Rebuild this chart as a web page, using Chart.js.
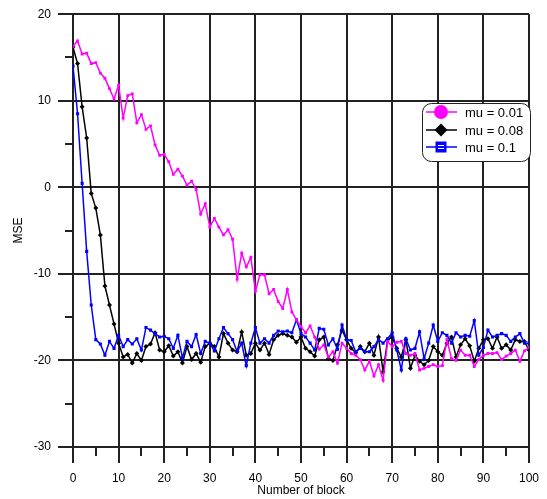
<!DOCTYPE html>
<html>
<head>
<meta charset="utf-8">
<script src="https://cdn.jsdelivr.net/npm/chart.js@4.4.0/dist/chart.umd.min.js"></script>
<style>
  html, body { margin: 0; padding: 0; background: #fff; }
  #wrap { width: 547px; height: 499px; }
</style>
</head>
<body>
<div id="wrap"><canvas id="c" width="547" height="499"></canvas></div>
<script>
// block index (x axis)
const blocks = [0,1,2,3,4,5,6,7,8,9,10,11,12,13,14,15,16,17,18,19,20,21,22,23,24,25,26,27,28,29,30,
  31,32,33,34,35,36,37,38,39,40,41,42,43,44,45,46,47,48,49,50,51,52,53,54,55,56,57,58,59,60,
  61,62,63,64,65,66,67,68,69,70,71,72,73,74,75,76,77,78,79,80,81,82,83,84,85,86,87,88,89,90,
  91,92,93,94,95,96,97,98,99,100];

// MSE values
const mse001 = [16.3,16.9,15.4,15.5,14.3,14.4,13.2,12.6,11.4,10.2,11.8,8.0,10.6,10.8,7.45,8.4,6.7,7.1,4.9,3.7,
  3.8,2.95,1.5,2.1,1.3,0.25,0.7,-0.25,-3.1,-1.9,-4.6,-3.6,-4.6,-5.5,-4.9,-6.0,-10.6,-7.6,-9.2,-8.1,
  -12.0,-10.1,-10.1,-12.3,-11.8,-13.2,-14.0,-11.8,-14.4,-15.3,-16.1,-16.8,-16.0,-17.3,-18.7,-18.2,-19.6,-19.0,-20.3,-18.0,
  -18.6,-19.2,-19.4,-19.9,-21.1,-20.1,-21.8,-20.5,-22.3,-17.8,-18.4,-17.9,-17.8,-19.2,-19.4,-19.2,-21.1,-20.9,-20.7,-20.5,
  -20.7,-20.6,-17.6,-19.8,-20.0,-18.8,-19.4,-19.4,-20.7,-19.9,-19.4,-19.2,-19.2,-19.1,-19.9,-19.5,-19.2,-18.8,-20.1,-18.9,
  -18.5];

const mse008 = [16.2,14.3,9.3,5.7,-0.7,-2.4,-5.5,-11.4,-13.6,-15.8,-18.0,-19.6,-19.3,-20.3,-19.2,-20.0,-18.4,-18.1,-16.8,-18.8,
  -19.0,-18.3,-19.5,-19.0,-20.3,-18.4,-19.9,-19.2,-20.2,-18.4,-18.0,-18.4,-19.6,-16.9,-18.0,-18.8,-19.0,-16.7,-19.4,-19.2,
  -18.0,-18.8,-18.0,-19.3,-17.6,-17.1,-16.9,-17.1,-17.3,-17.9,-17.3,-18.6,-19.0,-19.5,-17.6,-17.3,-19.8,-20.0,-18.2,-16.5,
  -17.6,-18.6,-19.1,-18.4,-19.0,-18.0,-19.4,-17.3,-21.3,-17.6,-17.3,-18.6,-19.6,-17.6,-20.9,-19.4,-20.1,-20.5,-20.0,-18.4,
  -19.0,-19.4,-18.0,-17.3,-19.6,-18.2,-17.5,-18.3,-20.1,-18.6,-17.6,-17.5,-18.6,-17.3,-18.6,-18.2,-18.8,-17.6,-17.8,-17.8,
  -18.8];

const mse01 = [14.0,8.5,0.45,-7.4,-13.6,-17.6,-18.1,-19.4,-17.8,-18.6,-17.1,-18.4,-17.6,-18.1,-17.5,-18.8,-16.2,-16.5,-16.9,-17.3,
  -17.2,-17.5,-18.6,-17.1,-19.7,-17.8,-18.4,-17.0,-19.2,-17.8,-18.0,-18.9,-17.5,-16.2,-16.9,-17.6,-19.0,-18.0,-20.6,-18.0,
  -16.2,-18.0,-17.5,-18.0,-17.1,-16.6,-16.7,-16.6,-16.8,-15.3,-16.9,-17.3,-18.0,-18.8,-16.3,-16.4,-18.2,-17.5,-18.7,-15.9,
  -17.6,-17.7,-19.0,-18.6,-19.0,-19.0,-18.4,-17.6,-18.0,-17.5,-16.8,-18.8,-21.1,-17.5,-18.8,-18.6,-16.7,-19.8,-18.0,-15.9,
  -17.8,-16.8,-17.1,-18.0,-16.8,-17.3,-17.1,-17.2,-15.4,-19.4,-18.5,-16.5,-17.3,-17.1,-16.9,-17.1,-17.8,-17.3,-16.9,-18.0,
  -18.0];

const seriesLabels = ['mu = 0.01', 'mu = 0.08', 'mu = 0.1'];
const xTicks = [0,10,20,30,40,50,60,70,80,90,100];
const yTicks = [-30,-20,-10,0,10,20];
const xMinor = [5,15,25,35,45,55,65,75,85,95];
const yMinor = [-25,-15,-5,5,15];

const FONT = 'Arial, "Liberation Sans", Helvetica, sans-serif';
const toPoints = (ys) => blocks.map((b, i) => ({ x: b, y: ys[i] }));

// minor tick marks outside the plot
const minorTicks = {
  id: 'minorTicks',
  afterDraw(chart) {
    const { ctx, scales: { x, y } } = chart;
    ctx.save();
    ctx.strokeStyle = '#222';
    ctx.lineWidth = 2;
    ctx.beginPath();
    xMinor.forEach(v => {
      const px = Math.round(x.getPixelForValue(v));
      ctx.moveTo(px, y.bottom);
      ctx.lineTo(px, y.bottom + 9);
    });
    yMinor.forEach(v => {
      const py = Math.round(y.getPixelForValue(v));
      ctx.moveTo(x.left - 8, py);
      ctx.lineTo(x.left, py);
    });
    ctx.stroke();
    ctx.restore();
  }
};

// boxed legend in the upper right
const boxLegend = {
  id: 'boxLegend',
  afterDraw(chart) {
    const ctx = chart.ctx;
    const bx = 422.5, by = 103.5, bw = 108, bh = 58;
    ctx.save();
    ctx.beginPath();
    ctx.roundRect(bx, by, bw, bh, 9);
    ctx.fillStyle = '#fff';
    ctx.fill();
    ctx.strokeStyle = '#222';
    ctx.lineWidth = 1;
    ctx.stroke();

    const rows = [112, 130, 147];
    const mx = 441;
    chart.data.datasets.forEach((ds, i) => {
      const ry = rows[i];
      ctx.strokeStyle = ds.borderColor;
      ctx.lineWidth = 1.5;
      ctx.beginPath();
      ctx.moveTo(426, ry);
      ctx.lineTo(457, ry);
      ctx.stroke();
      ctx.fillStyle = ds.borderColor;
      ctx.beginPath();
      if (i === 0) {
        ctx.arc(mx, ry, 7, 0, Math.PI * 2);
        ctx.fill();
      } else if (i === 1) {
        ctx.moveTo(mx, ry - 6.5);
        ctx.lineTo(mx + 6.5, ry);
        ctx.lineTo(mx, ry + 6.5);
        ctx.lineTo(mx - 6.5, ry);
        ctx.closePath();
        ctx.fill();
      } else {
        ctx.fillRect(mx - 5.5, ry - 5.5, 11, 11);
        ctx.strokeStyle = '#fff';
        ctx.lineWidth = 1;
        ctx.beginPath();
        ctx.moveTo(mx - 3, ry - 1.5); ctx.lineTo(mx + 3, ry - 1.5);
        ctx.moveTo(mx - 3, ry + 1.5); ctx.lineTo(mx + 3, ry + 1.5);
        ctx.stroke();
      }
      ctx.fillStyle = '#000';
      ctx.font = '13px ' + FONT;
      ctx.textBaseline = 'middle';
      ctx.textAlign = 'left';
      ctx.fillText(ds.label, 465, ry + 1);
    });
    ctx.restore();
  }
};

new Chart(document.getElementById('c').getContext('2d'), {
  type: 'line',
  data: {
    datasets: [
      {
        label: seriesLabels[0],
        data: toPoints(mse001),
        borderColor: '#ff00ff',
        backgroundColor: '#ff00ff',
        borderWidth: 1.5,
        pointStyle: 'rect',
        pointRadius: 2,
        pointBorderWidth: 0,
        order: 0
      },
      {
        label: seriesLabels[1],
        data: toPoints(mse008),
        borderColor: '#000000',
        backgroundColor: '#000000',
        borderWidth: 1.5,
        pointStyle: 'rectRot',
        pointRadius: 2.5,
        pointBorderWidth: 0,
        order: 2
      },
      {
        label: seriesLabels[2],
        data: toPoints(mse01),
        borderColor: '#0000ff',
        backgroundColor: '#0000ff',
        borderWidth: 1.5,
        pointStyle: 'rect',
        pointRadius: 2.2,
        pointBorderWidth: 0,
        order: 1
      }
    ]
  },
  options: {
    responsive: false,
    animation: false,
    devicePixelRatio: 1,
    layout: { padding: { top: 14, right: 17, left: 0, bottom: 0 } },
    plugins: {
      legend: { display: false },
      tooltip: { enabled: false }
    },
    elements: { line: { tension: 0 } },
    scales: {
      x: {
        type: 'linear',
        min: 0,
        max: 100,
        afterBuildTicks: (s) => { s.ticks = xTicks.map(v => ({ value: v })); },
        afterFit: (s) => { s.height = 52; },
        ticks: { color: '#000', font: { family: FONT, size: 12 }, padding: 8, maxRotation: 0, autoSkip: false },
        grid: { color: '#222', lineWidth: 2, tickLength: 16, drawTicks: true },
        border: { color: '#222', width: 2 },
        title: {
          display: true,
          text: 'Number of block',
          color: '#000',
          font: { family: FONT, size: 12 },
          padding: { top: 0, bottom: 1 }
        }
      },
      y: {
        type: 'linear',
        min: -30,
        max: 20,
        afterBuildTicks: (s) => { s.ticks = yTicks.map(v => ({ value: v })); },
        afterFit: (s) => { s.width = 73; },
        ticks: { color: '#000', font: { family: FONT, size: 12 }, padding: 7 },
        grid: { color: '#222', lineWidth: 2, tickLength: 15, drawTicks: true },
        border: { color: '#222', width: 2 },
        title: {
          display: true,
          text: 'MSE',
          color: '#000',
          font: { family: FONT, size: 12 },
          padding: { top: 11, bottom: 0 }
        }
      }
    }
  },
  plugins: [minorTicks, boxLegend]
});
</script>
</body>
</html>
